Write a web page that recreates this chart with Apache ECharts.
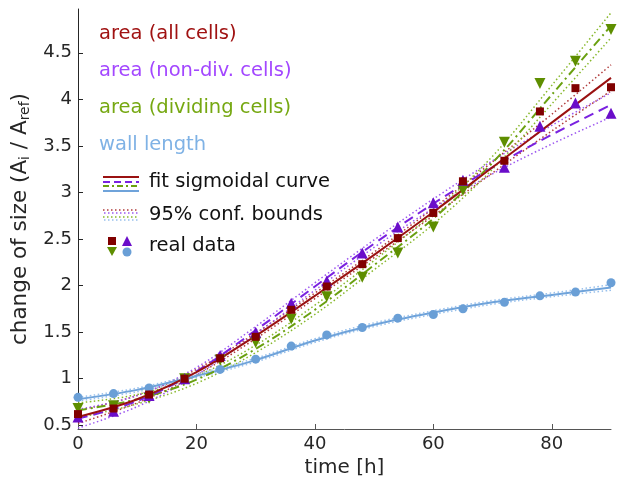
<!doctype html>
<html>
<head>
<meta charset="UTF-8">
<title>change of size</title>
<script src="https://cdn.jsdelivr.net/npm/echarts@6/dist/echarts.min.js"></script>
<style>
  html, body { margin: 0; padding: 0; background: #fff; }
  #chart { width: 621px; height: 486px; }
</style>
</head>
<body>
<div id="chart"></div>
<script>
// measured time points (h)
var times = [0, 6, 12, 18, 24, 30, 36, 42, 48, 54, 60, 65, 72, 78, 84, 90];
var areaAll = [0.62, 0.68, 0.83, 1.0, 1.22, 1.45, 1.74, 1.99, 2.23, 2.51, 2.78, 3.12, 3.34, 3.87, 4.12, 4.13];
var areaNonDiv = [0.59, 0.65, 0.82, 1.0, 1.25, 1.50, 1.81, 2.05, 2.35, 2.63, 2.89, 3.13, 3.27, 3.71, 3.96, 3.85];
var areaDiv = [0.68, 0.71, 0.79, 1.0, 1.20, 1.39, 1.64, 1.88, 2.09, 2.35, 2.63, 3.02, 3.54, 4.17, 4.41, 4.75];
var wallLen = [0.80, 0.84, 0.90, 1.0, 1.10, 1.21, 1.35, 1.47, 1.55, 1.65, 1.69, 1.75, 1.82, 1.89, 1.93, 2.03];

var fitTimes = [0, 10, 20, 30, 40, 50, 60, 70, 80, 90];
var fitAll = [0.59, 0.78, 1.07, 1.46, 1.89, 2.33, 2.79, 3.27, 3.75, 4.23];
var fitNonDiv = [0.57, 0.76, 1.08, 1.52, 1.99, 2.45, 2.88, 3.27, 3.62, 3.94];
var fitDiv = [0.66, 0.78, 0.99, 1.32, 1.74, 2.22, 2.72, 3.32, 4.05, 4.79];
var fitWall = [0.78, 0.88, 1.03, 1.20, 1.41, 1.58, 1.71, 1.82, 1.90, 1.98];

// 95% confidence bounds
var allUp = [0.66, 0.82, 1.10, 1.49, 1.92, 2.36, 2.83, 3.33, 3.84, 4.37];
var allLo = [0.52, 0.74, 1.04, 1.43, 1.86, 2.30, 2.75, 3.21, 3.66, 4.09];
var nonDivUp = [0.67, 0.82, 1.12, 1.56, 2.03, 2.49, 2.93, 3.34, 3.72, 4.07];
var nonDivLo = [0.47, 0.70, 1.04, 1.48, 1.95, 2.41, 2.83, 3.20, 3.52, 3.81];
var divUp = [0.74, 0.83, 1.03, 1.36, 1.79, 2.27, 2.78, 3.39, 4.15, 4.93];
var divLo = [0.58, 0.73, 0.95, 1.28, 1.69, 2.17, 2.66, 3.25, 3.95, 4.66];
var wallUp = [0.80, 0.90, 1.05, 1.22, 1.43, 1.60, 1.73, 1.84, 1.92, 2.01];
var wallLo = [0.76, 0.86, 1.01, 1.18, 1.39, 1.56, 1.69, 1.80, 1.88, 1.95];

var xTicks = [0, 20, 40, 60, 80];
var yTicks = [0.5, 1, 1.5, 2, 2.5, 3, 3.5, 4, 4.5];

var FONT = 'DejaVu Sans';
var RED = '#9a1111', RED_M = '#800000', RED_B = '#b03c3c';
var PUR = '#7a22e0', PUR_M = '#6a0dc9', PUR_B = '#9d58f0';
var GRN = '#6aa010', GRN_M = '#5e8e00', GRN_B = '#88b82c';
var BLU = '#6fa3da', BLU_M = '#6a9fd6', BLU_B = '#98c0ec';

function pairs(xs, ys) {
  return xs.map(function (x, i) { return [x, ys[i]]; });
}

function curve(name, ys, color, dash, width, z) {
  return {
    name: name, type: 'line', data: pairs(fitTimes, ys),
    smooth: 0.35, showSymbol: false, silent: true, z: z,
    lineStyle: { color: color, width: width, type: dash }
  };
}

function dots(name, ys, color, symbol, size, rotate) {
  return {
    name: name, type: 'scatter', data: pairs(times, ys),
    symbol: symbol, symbolSize: size, symbolRotate: rotate || 0, z: 5,
    itemStyle: { color: color, opacity: 1 }
  };
}

var dotted = [1.5, 2.5];

var series = [
  curve('allUp', allUp, RED_B, dotted, 1.5, 2),
  curve('allLo', allLo, RED_B, dotted, 1.5, 2),
  curve('nonDivUp', nonDivUp, PUR_B, dotted, 1.5, 2),
  curve('nonDivLo', nonDivLo, PUR_B, dotted, 1.5, 2),
  curve('divUp', divUp, GRN_B, dotted, 1.5, 2),
  curve('divLo', divLo, GRN_B, dotted, 1.5, 2),
  curve('wallUp', wallUp, BLU_B, dotted, 1.5, 2),
  curve('wallLo', wallLo, BLU_B, dotted, 1.5, 2),
  curve('fitWall', fitWall, BLU, 'solid', 2, 3),
  curve('fitDiv', fitDiv, GRN, [9, 4, 2, 4], 2, 3),
  curve('fitNonDiv', fitNonDiv, PUR, [10, 6], 2, 3),
  curve('fitAll', fitAll, RED, 'solid', 2, 3),
  dots('wall length', wallLen, BLU_M, 'circle', 9),
  dots('area (dividing cells)', areaDiv, GRN_M, 'triangle', 11, 180),
  dots('area (non-div. cells)', areaNonDiv, PUR_M, 'triangle', 11),
  dots('area (all cells)', areaAll, RED_M, 'rect', 8)
];

function txt(x, y, s, color) {
  return { type: 'text', left: x, top: y - 12, z: 100,
    style: { text: s, fill: color, font: '19.5px "' + FONT + '"', textVerticalAlign: 'top' } };
}
function seg(x1, x2, y, color, dash) {
  return { type: 'line', z: 100, shape: { x1: x1, y1: y, x2: x2, y2: y },
    style: { stroke: color, lineWidth: 2, lineDash: dash || null } };
}
function dotSeg(x1, y, color) {
  return { type: 'line', z: 100, shape: { x1: x1, y1: y, x2: 139, y2: y },
    style: { stroke: color, lineWidth: 1.3, lineDash: [1.5, 2.5] } };
}

var graphics = [
  txt(99, 36, 'area (all cells)', '#a01212'),
  txt(99, 73, 'area (non-div. cells)', '#a347ff'),
  txt(99, 110, 'area (dividing cells)', '#76a812'),
  txt(99, 147, 'wall length', '#7fb2e5'),
  seg(103, 139, 177, RED),
  seg(103, 139, 182, PUR, [7, 4]),
  seg(103, 139, 186, GRN, [6, 3, 2, 3]),
  seg(103, 139, 191, BLU),
  txt(149, 184, 'fit sigmoidal curve', '#111'),
  dotSeg(103, 210, RED_B),
  dotSeg(104, 213, PUR_B),
  dotSeg(103, 217, GRN_B),
  dotSeg(104, 220, BLU_B),
  txt(149, 217, '95% conf. bounds', '#111'),
  { type: 'rect', z: 100, shape: { x: 108, y: 237, width: 8, height: 8 }, style: { fill: RED_M } },
  { type: 'polygon', z: 100, shape: { points: [[122, 246], [132, 246], [127, 236]] }, style: { fill: PUR_M } },
  { type: 'polygon', z: 100, shape: { points: [[107, 247], [117, 247], [112, 256]] }, style: { fill: GRN_M } },
  { type: 'circle', z: 100, shape: { cx: 127, cy: 252, r: 4.5 }, style: { fill: BLU_M } },
  txt(149, 248, 'real data', '#111')
];

var axisCol = '#262626';

var option = {
  animation: false,
  backgroundColor: '#fff',
  grid: { left: 78, right: 10, top: 9, bottom: 57, containLabel: false },
  xAxis: {
    type: 'value', min: 0, max: 90,
    name: 'time [h]', nameLocation: 'middle', nameGap: 22,
    nameTextStyle: { color: axisCol, fontFamily: FONT, fontSize: 20 },
    axisLine: { show: true, lineStyle: { color: '#555', width: 1 } },
    axisTick: { show: true, inside: true, length: 5, customValues: xTicks, lineStyle: { color: '#555' } },
    axisLabel: { customValues: xTicks, color: axisCol, fontFamily: FONT, fontSize: 18, margin: 6 },
    splitLine: { show: false }
  },
  yAxis: {
    type: 'value', min: 0.46, max: 4.97,
    name: 'change of size (A{s|i} / A{s|ref})', nameLocation: 'middle', nameGap: 24, nameRotate: 90,
    nameTextStyle: {
      color: axisCol, fontFamily: FONT, fontSize: 21.5,
      rich: { s: { fontSize: 14, fontFamily: FONT, color: axisCol, padding: [10, 0, 0, 0] } }
    },
    axisLine: { show: true, lineStyle: { color: axisCol, width: 1 } },
    axisTick: { show: true, inside: true, length: 5, customValues: yTicks, lineStyle: { color: axisCol } },
    axisLabel: { customValues: yTicks, color: axisCol, fontFamily: FONT, fontSize: 18, margin: 6 },
    splitLine: { show: false }
  },
  graphic: graphics,
  series: series
};

var chart = echarts.init(document.getElementById('chart'), null, { renderer: 'canvas' });
chart.setOption(option);
</script>
</body>
</html>
